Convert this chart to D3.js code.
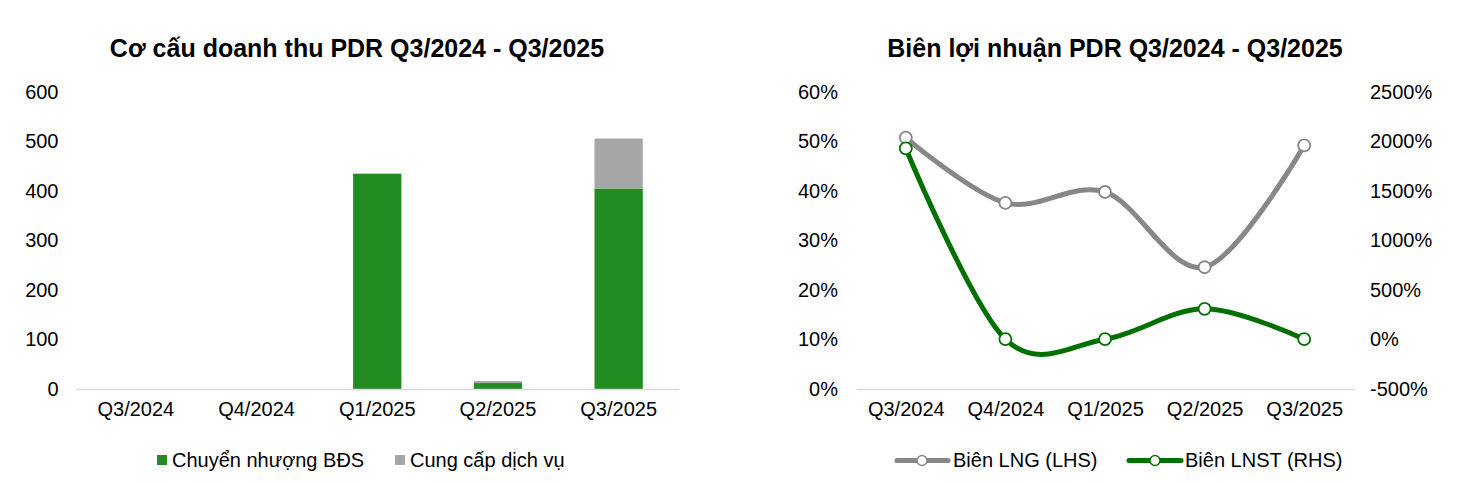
<!DOCTYPE html>
<html>
<head>
<meta charset="utf-8">
<script src="https://cdn.jsdelivr.net/npm/d3@7"></script>
<style>
  html, body { margin: 0; padding: 0; background: #fff; }
  svg { display: block; font-family: "Liberation Sans", Arial, sans-serif; }
</style>
</head>
<body>
<svg id="chart" width="1466" height="484"></svg>
<script>
const categories = ["Q3/2024", "Q4/2024", "Q1/2025", "Q2/2025", "Q3/2025"];
// Revenue structure (tỷ đồng)
const chuyenNhuongBDS = [0, 0, 435, 12, 405];
const cungCapDichVu = [0, 0, 0, 4, 101];
const revenueTicks = [0, 100, 200, 300, 400, 500, 600];
// Margins (%)
const bienLNG = [50.8, 37.6, 39.8, 24.6, 49.2];
const bienLNST = [1930, 3, 3, 310, 3];
const lhsTicks = [0, 10, 20, 30, 40, 50, 60];
const rhsTicks = [-500, 0, 500, 1000, 1500, 2000, 2500];

const titles = ["Cơ cấu doanh thu PDR Q3/2024 - Q3/2025", "Biên lợi nhuận PDR Q3/2024 - Q3/2025"];
const seriesNames = ["Chuyển nhượng BĐS", "Cung cấp dịch vụ", "Biên LNG (LHS)", "Biên LNST (RHS)"];

const C_GREEN = "#228b22", C_GRAY = "#a6a6a6", C_LGRAY = "#878787", C_DGREEN = "#007000";
const svg = d3.select("#chart");
const FS = 20;
const TFS = 25;

// ---------- Left chart ----------
const L = { x0: 75.5, x1: 679, yTop: 92, yBot: 389 };
const xL = d3.scaleBand().domain(categories).range([L.x0, L.x1]).paddingInner(0.6).paddingOuter(0.3);
const yL = d3.scaleLinear().domain([0, 600]).range([L.yBot, L.yTop]);

svg.append("text").attr("x", 357).attr("y", 57).attr("text-anchor", "middle")
  .attr("font-size", TFS).attr("font-weight", "bold").text(titles[0]);

const gL = svg.append("g");
const yAxisL = gL.append("g").attr("transform", `translate(${L.x0 - 12},0)`)
  .call(d3.axisLeft(yL).tickValues(revenueTicks).tickSize(0).tickPadding(5));
yAxisL.select(".domain").remove();
yAxisL.selectAll("text").attr("font-size", FS).attr("fill", "#000").attr("font-family", "Liberation Sans, Arial, sans-serif");

const stacked = categories.map((c, i) => ({ c, a: chuyenNhuongBDS[i], b: cungCapDichVu[i] }));
gL.selectAll("rect.a").data(stacked).enter().append("rect")
  .attr("x", d => xL(d.c)).attr("width", xL.bandwidth())
  .attr("y", d => yL(d.a)).attr("height", d => yL(0) - yL(d.a)).attr("fill", C_GREEN);
gL.selectAll("rect.b").data(stacked).enter().append("rect")
  .attr("x", d => xL(d.c)).attr("width", xL.bandwidth())
  .attr("y", d => yL(d.a + d.b)).attr("height", d => yL(d.a) - yL(d.a + d.b)).attr("fill", C_GRAY);

const xAxisL = gL.append("g").attr("transform", `translate(0,${L.yBot})`)
  .call(d3.axisBottom(xL).tickSize(0).tickPadding(13));
xAxisL.select(".domain").attr("stroke", "#d9d9d9").attr("stroke-width", 1.5);
xAxisL.selectAll("text").attr("font-size", FS).attr("fill", "#000").attr("font-family", "Liberation Sans, Arial, sans-serif");

// legend left
const legL = svg.append("g");
legL.append("rect").attr("x", 157).attr("y", 455).attr("width", 10).attr("height", 10).attr("fill", C_GREEN);
legL.append("text").attr("x", 172).attr("y", 467).attr("font-size", FS).text(seriesNames[0]);
legL.append("rect").attr("x", 395).attr("y", 455).attr("width", 10).attr("height", 10).attr("fill", C_GRAY);
legL.append("text").attr("x", 410).attr("y", 467).attr("font-size", FS).text(seriesNames[1]);

// ---------- Right chart ----------
const R = { x0: 856, x1: 1354, yTop: 92, yBot: 389 };
const xR = d3.scalePoint().domain(categories).range([R.x0, R.x1]).padding(0.5);
const yRL = d3.scaleLinear().domain([0, 60]).range([R.yBot, R.yTop]);
const yRR = d3.scaleLinear().domain([-500, 2500]).range([R.yBot, R.yTop]);

svg.append("text").attr("x", 1115).attr("y", 57).attr("text-anchor", "middle")
  .attr("font-size", TFS).attr("font-weight", "bold").text(titles[1]);

const gR = svg.append("g");
const axLeft = gR.append("g").attr("transform", `translate(${R.x0 - 13},0)`)
  .call(d3.axisLeft(yRL).tickValues(lhsTicks).tickFormat(d => d + "%").tickSize(0).tickPadding(5));
axLeft.select(".domain").remove();
axLeft.selectAll("text").attr("font-size", FS).attr("fill", "#000").attr("font-family", "Liberation Sans, Arial, sans-serif");

const axRight = gR.append("g").attr("transform", `translate(${R.x1 + 11},0)`)
  .call(d3.axisRight(yRR).tickValues(rhsTicks).tickFormat(d => d + "%").tickSize(0).tickPadding(5));
axRight.select(".domain").remove();
axRight.selectAll("text").attr("font-size", FS).attr("fill", "#000").attr("font-family", "Liberation Sans, Arial, sans-serif");

const xAxisR = gR.append("g").attr("transform", `translate(0,${R.yBot})`)
  .call(d3.axisBottom(xR).tickSize(0).tickPadding(13));
xAxisR.select(".domain").attr("stroke", "#d9d9d9").attr("stroke-width", 1.5);
xAxisR.selectAll("text").attr("font-size", FS).attr("fill", "#000").attr("font-family", "Liberation Sans, Arial, sans-serif");

const curve = d3.curveCardinal.tension(0);
const lngPts = categories.map((c, i) => [xR(c), yRL(bienLNG[i])]);
const lnstPts = categories.map((c, i) => [xR(c), yRR(bienLNST[i])]);

gR.append("path").attr("d", d3.line().curve(curve)(lngPts))
  .attr("fill", "none").attr("stroke", C_LGRAY).attr("stroke-width", 5).attr("stroke-linecap", "round");
gR.append("path").attr("d", d3.line().curve(curve)(lnstPts))
  .attr("fill", "none").attr("stroke", C_DGREEN).attr("stroke-width", 5).attr("stroke-linecap", "round");

gR.selectAll("circle.lng").data(lngPts).enter().append("circle")
  .attr("cx", d => d[0]).attr("cy", d => d[1]).attr("r", 6)
  .attr("fill", "#fff").attr("stroke", C_LGRAY).attr("stroke-width", 1.8);
gR.selectAll("circle.lnst").data(lnstPts).enter().append("circle")
  .attr("cx", d => d[0]).attr("cy", d => d[1]).attr("r", 6)
  .attr("fill", "#fff").attr("stroke", C_DGREEN).attr("stroke-width", 1.8);

// legend right
const legR = svg.append("g");
legR.append("line").attr("x1", 897).attr("x2", 948).attr("y1", 460.5).attr("y2", 460.5)
  .attr("stroke", C_LGRAY).attr("stroke-width", 5).attr("stroke-linecap", "round");
legR.append("circle").attr("cx", 922).attr("cy", 460.5).attr("r", 5)
  .attr("fill", "#fff").attr("stroke", C_LGRAY).attr("stroke-width", 1.5);
legR.append("text").attr("x", 953).attr("y", 467).attr("font-size", FS).text(seriesNames[2]);
legR.append("line").attr("x1", 1129).attr("x2", 1181).attr("y1", 460.5).attr("y2", 460.5)
  .attr("stroke", C_DGREEN).attr("stroke-width", 5).attr("stroke-linecap", "round");
legR.append("circle").attr("cx", 1155).attr("cy", 460.5).attr("r", 5)
  .attr("fill", "#fff").attr("stroke", C_DGREEN).attr("stroke-width", 1.5);
legR.append("text").attr("x", 1185).attr("y", 467).attr("font-size", FS).text(seriesNames[3]);
</script>
</body>
</html>
